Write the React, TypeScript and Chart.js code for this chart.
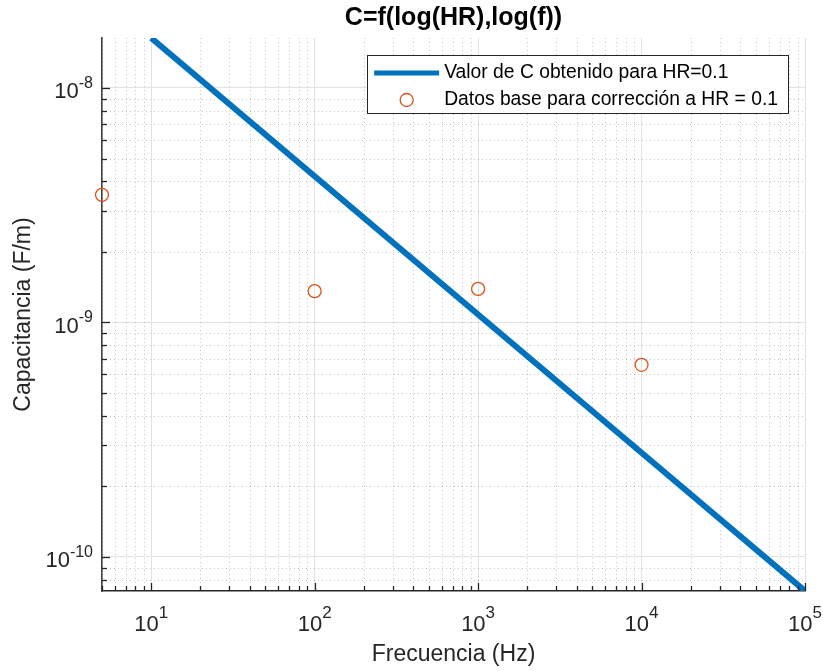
import { useEffect, useRef } from "react";
import { Chart, registerables } from "chart.js";

Chart.register(...registerables);

const TITLE = "C=f(log(HR),log(f))";
const X_LABEL = "Frecuencia (Hz)";
const Y_LABEL = "Capacitancia (F/m)";
const LINE_LABEL = "Valor de C obtenido para HR=0.1";
const POINT_LABEL = "Datos base para corrección a HR = 0.1";

const lineFreq = [10, 100, 1000, 10000, 100000];
const lineCap = [1.633e-8, 4.2e-9, 1.081e-9, 2.782e-10, 7.16e-11];

const baseFreq = [5, 100, 1000, 10000];
const baseCap = [3.5e-9, 1.36e-9, 1.39e-9, 6.6e-10];

const xMajorTicks = [10, 100, 1000, 10000, 100000];
const xTickBase = ["10", "10", "10", "10", "10"];
const xTickExp = ["1", "2", "3", "4", "5"];
const yMajorTicks = [1e-10, 1e-9, 1e-8];
const yTickBase = ["10", "10", "10"];
const yTickExp = ["-10", "-9", "-8"];

const xRange = [5, 100000];
const yRange = [7.16e-11, 1.633e-8];

const LINE_COLOR = "#0072BD";
const POINT_COLOR = "#D95319";
const AXIS_COLOR = "#262626";
const SANS = "'Liberation Sans', Arial, sans-serif";

function minorValues(min: number, max: number): number[] {
  const out: number[] = [];
  const d0 = Math.floor(Math.log10(min));
  const d1 = Math.ceil(Math.log10(max));
  for (let d = d0; d <= d1; d++) {
    for (let m = 2; m <= 9; m++) {
      const v = m * Math.pow(10, d);
      if (v >= min * 0.9999 && v <= max * 1.0001) out.push(v);
    }
  }
  return out;
}

const matlabAxes = {
  id: "matlabAxes",
  beforeDatasetsDraw(chart: any) {
    const { ctx, chartArea: a, scales } = chart;
    const x = scales.x;
    const y = scales.y;
    ctx.save();
    ctx.strokeStyle = "rgba(0,0,0,0.22)";
    ctx.lineWidth = 1;
    ctx.setLineDash([1, 3]);
    for (const v of minorValues(xRange[0], xRange[1])) {
      const px = Math.round(x.getPixelForValue(v)) + 0.5;
      ctx.beginPath();
      ctx.moveTo(px, a.top);
      ctx.lineTo(px, a.bottom);
      ctx.stroke();
    }
    for (const v of minorValues(yRange[0], yRange[1])) {
      const py = Math.round(y.getPixelForValue(v)) + 0.5;
      ctx.beginPath();
      ctx.moveTo(a.left, py);
      ctx.lineTo(a.right, py);
      ctx.stroke();
    }
    ctx.restore();
  },
  afterDatasetsDraw(chart: any) {
    const { ctx, chartArea: a, scales } = chart;
    const x = scales.x;
    const y = scales.y;
    ctx.save();
    ctx.strokeStyle = AXIS_COLOR;
    ctx.lineWidth = 1.3;
    const tick = (px: number, len: number, vertical: boolean) => {
      ctx.beginPath();
      if (vertical) {
        ctx.moveTo(px, a.bottom);
        ctx.lineTo(px, a.bottom - len);
      } else {
        ctx.moveTo(a.left, px);
        ctx.lineTo(a.left + len, px);
      }
      ctx.stroke();
    };
    for (const v of xMajorTicks) tick(Math.round(x.getPixelForValue(v)) + 0.5, 8, true);
    for (const v of minorValues(xRange[0], xRange[1])) tick(Math.round(x.getPixelForValue(v)) + 0.5, 5, true);
    for (const v of yMajorTicks) tick(Math.round(y.getPixelForValue(v)) + 0.5, 8, false);
    for (const v of minorValues(yRange[0], yRange[1])) tick(Math.round(y.getPixelForValue(v)) + 0.5, 5, false);

    // tick labels with superscript exponents, placed via the scales
    ctx.fillStyle = AXIS_COLOR;
    ctx.textBaseline = "alphabetic";
    ctx.textAlign = "left";
    const baseFont = `22px ${SANS}`;
    x.ticks.forEach((t: any, i: number) => {
      const px = x.getPixelForValue(t.value);
      ctx.font = baseFont;
      const wb = ctx.measureText(xTickBase[i]).width;
      const expFont = `17px ${SANS}`;
      ctx.font = expFont;
      const we = ctx.measureText(xTickExp[i]).width;
      const start = px - (wb + we) / 2;
      const baseline = a.bottom + 39.5;
      ctx.font = baseFont;
      ctx.fillText(xTickBase[i], start, baseline);
      ctx.font = expFont;
      ctx.fillText(xTickExp[i], start + wb, baseline - 13);
    });
    y.ticks.forEach((t: any, i: number) => {
      const py = y.getPixelForValue(t.value);
      ctx.font = baseFont;
      const wb = ctx.measureText(yTickBase[i]).width;
      const expFont = `16px ${SANS}`;
      ctx.font = expFont;
      const we = ctx.measureText(yTickExp[i]).width;
      const right = a.left - 9;
      const start = right - wb - we;
      const baseline = py + 10.3;
      ctx.font = baseFont;
      ctx.fillText(yTickBase[i], start, baseline);
      ctx.font = expFont;
      ctx.fillText(yTickExp[i], start + wb, baseline - 10.5);
    });
    ctx.restore();
  },
  afterDraw(chart: any) {
    const { ctx, chartArea: a } = chart;
    ctx.save();
    ctx.font = `19.3px ${SANS}`;
    const ds = chart.data.datasets;
    const tw = Math.max(ctx.measureText(ds[0].label).width, ctx.measureText(ds[1].label).width);
    const textOffset = 77;
    const w = textOffset + tw + 10;
    const h = 58;
    const right = a.right - 17;
    const left = right - w;
    const top = a.top + 17;
    ctx.fillStyle = "#ffffff";
    ctx.fillRect(left, top, w, h);
    ctx.strokeStyle = AXIS_COLOR;
    ctx.lineWidth = 1;
    ctx.strokeRect(Math.round(left) + 0.5, top + 0.5, Math.round(w), h);
    const row1 = top + 18;
    const row2 = top + 45;
    ctx.strokeStyle = ds[0].borderColor;
    ctx.lineWidth = 5;
    ctx.beginPath();
    ctx.moveTo(left + 7, row1);
    ctx.lineTo(left + 72, row1);
    ctx.stroke();
    ctx.strokeStyle = ds[1].borderColor;
    ctx.lineWidth = 1.3;
    ctx.beginPath();
    ctx.arc(left + 39.5, row2, 6.5, 0, Math.PI * 2);
    ctx.stroke();
    ctx.fillStyle = "#000000";
    ctx.textBaseline = "middle";
    ctx.textAlign = "left";
    ctx.fillText(ds[0].label, left + textOffset, row1);
    ctx.fillText(ds[1].label, left + textOffset, row2);
    ctx.restore();
  },
};

export default function App() {
  const ref = useRef<HTMLCanvasElement | null>(null);

  useEffect(() => {
    if (!ref.current) return;
    const chart = new Chart(ref.current, {
      type: "line",
      data: {
        datasets: [
          {
            label: LINE_LABEL,
            data: lineFreq.map((f, i) => ({ x: f, y: lineCap[i] })),
            borderColor: LINE_COLOR,
            backgroundColor: LINE_COLOR,
            borderWidth: 6,
            pointRadius: 0,
            tension: 0,
            fill: false,
          },
          {
            label: POINT_LABEL,
            data: baseFreq.map((f, i) => ({ x: f, y: baseCap[i] })),
            borderColor: POINT_COLOR,
            backgroundColor: "rgba(0,0,0,0)",
            showLine: false,
            pointRadius: 6.5,
            pointBorderWidth: 1.3,
            pointStyle: "circle",
            clip: false,
          },
        ],
      } as any,
      options: {
        responsive: false,
        animation: false,
        events: [],
        layout: { padding: { left: 0, right: 18, top: 0, bottom: 0 } },
        plugins: {
          legend: { display: false },
          tooltip: { enabled: false },
          title: {
            display: true,
            text: TITLE,
            fullSize: false,
            color: "#000000",
            font: { family: SANS, size: 25, weight: "bold" },
            padding: { top: 3.4, bottom: 4.6 },
          },
        },
        scales: {
          x: {
            type: "logarithmic",
            position: "bottom",
            min: xRange[0],
            max: xRange[1],
            afterBuildTicks: (s: any) => {
              s.ticks = xMajorTicks.map((v) => ({ value: v }));
            },
            afterFit: (s: any) => {
              s.height = 80;
              s.paddingLeft = 0;
              s.paddingRight = 0;
            },
            ticks: { display: false, autoSkip: false, maxRotation: 0 },
            grid: { color: "#e2e2e2", lineWidth: 1, drawTicks: false },
            border: { color: AXIS_COLOR, width: 1.6 },
            title: {
              display: true,
              text: X_LABEL,
              color: AXIS_COLOR,
              font: { family: SANS, size: 23 },
              padding: { top: 0, bottom: 3 },
            },
          },
          y: {
            type: "logarithmic",
            position: "left",
            min: yRange[0],
            max: yRange[1],
            afterBuildTicks: (s: any) => {
              s.ticks = yMajorTicks.map((v) => ({ value: v }));
            },
            afterFit: (s: any) => {
              s.width = 102;
              s.paddingTop = 0;
              s.paddingBottom = 0;
            },
            ticks: { display: false, autoSkip: false },
            grid: { color: "#e2e2e2", lineWidth: 1, drawTicks: false },
            border: { color: "#404040", width: 1.6 },
            title: {
              display: true,
              text: Y_LABEL,
              color: AXIS_COLOR,
              font: { family: SANS, size: 23 },
              padding: { top: 10, bottom: 0 },
            },
          },
        },
      } as any,
      plugins: [matlabAxes],
    });
    return () => chart.destroy();
  }, []);

  return (
    <div style={{ position: "fixed", left: 0, top: 0, width: 823, height: 671, background: "#ffffff" }}>
      <canvas ref={ref} width={823} height={671} style={{ display: "block", width: 823, height: 671 }} />
    </div>
  );
}
